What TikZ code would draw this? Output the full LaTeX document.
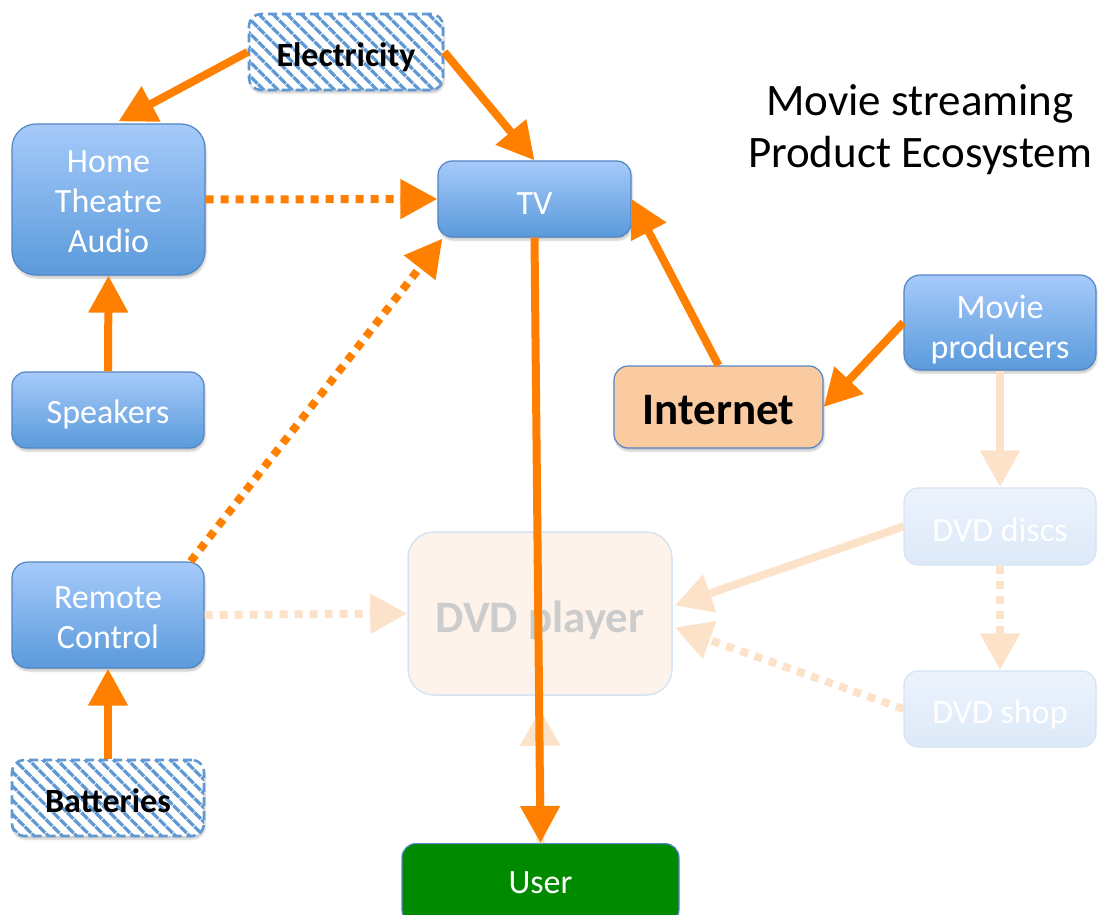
\documentclass[tikz,border=0pt]{standalone}
\usepackage{fontspec}
\setmainfont{Carlito}
\usetikzlibrary{arrows.meta,calc,patterns.meta,shadows.blur}

\definecolor{btop}{RGB}{166,202,250}
\definecolor{bbot}{RGB}{90,154,219}
\definecolor{bborder}{RGB}{84,133,196}
\definecolor{flow}{RGB}{255,128,0}
\definecolor{fadeflow}{RGB}{253,226,202}
\definecolor{fadetop}{RGB}{236,243,253}
\definecolor{fadebot}{RGB}{221,233,248}
\definecolor{fadeborder}{RGB}{214,227,244}
\definecolor{dvdfill}{RGB}{253,243,234}
\definecolor{dvdtext}{RGB}{204,204,204}
\definecolor{hatch}{RGB}{96,152,212}
\definecolor{netfill}{RGB}{250,202,161}
\definecolor{userfill}{RGB}{0,138,0}

% box label: lines centred, set a little lower than the box's middle
\newcommand\boxtext[2][6pt]{\raisebox{-#1}[\height][\depth]{\begin{tabular}{@{}c@{}}#2\end{tabular}}}

\tikzset{
  soft/.style={blur shadow={shadow xshift=1pt,shadow yshift=-3pt,shadow opacity=22,shadow blur steps=6}},
  bluebox/.style={soft,rounded corners=#1,draw=bborder,line width=1.2pt,
    top color=btop,bottom color=bbot,text=white,align=center,inner sep=0pt,
    font=\fontsize{34}{40}\selectfont},
  fadebox/.style={rounded corners=14pt,draw=fadeborder,line width=1.2pt,
    top color=fadetop,bottom color=fadebot,text=white,align=center,inner sep=0pt,
    font=\fontsize{34}{40}\selectfont,minimum width=192pt,minimum height=77pt},
  hatchbox/.style={soft,rounded corners=12pt,preaction={fill=white},
    pattern={Lines[angle=-45,distance=10pt,line width=3.2pt]},pattern color=hatch,
    draw=hatch,line width=2.6pt,dash pattern=on 9pt off 5pt,align=center,inner sep=0pt,
    font=\fontsize{34}{40}\selectfont\bfseries,minimum width=194pt,minimum height=76pt},
  flowarrow/.style={draw=flow,line width=8pt,-{Triangle[length=37pt,width=38pt]}},
  fadearrow/.style={draw=fadeflow,line width=8pt,-{Triangle[length=37pt,width=38pt]}},
  dots/.style={dash pattern=on 8pt off 7pt},
}

\begin{document}
\begin{tikzpicture}[x=1pt,y=-1pt]
\useasboundingbox (0,0) rectangle (1098,915);

% faded DVD part of the ecosystem
\node[rounded corners=26pt,draw=fadeborder,line width=1.5pt,fill=dvdfill,text=dvdtext,
  font=\fontsize{45}{50}\selectfont\bfseries,minimum width=264pt,minimum height=163pt]
  (dvd) at (540,613.5) {\boxtext[9pt]{DVD player}};
\node[fadebox] (discs) at (1000,526.5) {\boxtext[7pt]{DVD discs}};
\node[fadebox,minimum height=76pt] (shop) at (1000,709) {\boxtext{DVD shop}};

% boxes
\node[hatchbox] (elec) at (346,52) {\boxtext[7pt]{Electricity}};
\node[hatchbox,minimum width=192pt] (bat) at (108,798) {\boxtext{Batteries}};
\node[bluebox=24pt,minimum width=193pt,minimum height=151pt] (hta) at (108.5,199.5) {\boxtext[5pt]{Home\\Theatre\\Audio}};
\node[bluebox=14pt,minimum width=193pt,minimum height=76pt] (tv) at (534.5,199) {\boxtext[7pt]{TV}};
\node[bluebox=14pt,minimum width=192pt,minimum height=76pt] (spk) at (108,410) {\boxtext[5pt]{Speakers}};
\node[bluebox=16pt,minimum width=192pt,minimum height=106pt] (rem) at (108,615) {\boxtext[5.5pt]{Remote\\Control}};
\node[bluebox=16pt,minimum width=192pt,minimum height=95pt] (prod) at (1000,322.5) {\boxtext[8pt]{Movie\\producers}};
\node[soft,rounded corners=14pt,draw=bborder,line width=1.2pt,fill=netfill,text=black,
  font=\fontsize{45}{50}\selectfont\bfseries,inner sep=0pt,minimum width=209pt,minimum height=82pt]
  (inet) at (718.5,407) {\boxtext[7pt]{Internet}};
\node[rounded corners=14pt,draw=bborder,line width=1.2pt,fill=userfill,text=white,
  font=\fontsize{34}{40}\selectfont,inner sep=0pt,minimum width=277pt,minimum height=80pt,
  anchor=north] (user) at (540.5,843) {\boxtext[2pt]{User}};

% title
\node[font=\fontsize{45}{52}\selectfont,align=center] (title) at (920,129.5)
  {Movie streaming\\Product Ecosystem};

% faded connectors
\draw[fadearrow] (prod.south) -- (discs.north);
\draw[fadearrow] (discs.west) -- ($(dvd.east)+(2,-8)$);
\draw[fadearrow,dots] (discs.south) -- (shop.north);
\draw[fadearrow,dots] (shop.west) -- ($(dvd.east)+(2,14)$);
\draw[fadearrow,dots] (rem.east) -- (dvd.west);
\draw[fadearrow,shorten >=13pt] (user.north) -- (dvd.south);

% main connectors
\draw[flowarrow] (elec.west) -- ($(hta.north)+(10,-2)$);
\draw[flowarrow] (elec.east) -- (tv.north);
\draw[flowarrow,dots] (hta.east) -- (tv.west);
\draw[flowarrow] (spk.north) -- (hta.south);
\draw[flowarrow,dots] ($(rem.north east)+(-14,0)$) -- ($(tv.south west)+(5,1)$);
\draw[flowarrow] (bat.north) -- (rem.south);
\draw[flowarrow] (tv.south) -- (user.north);
\draw[flowarrow] (inet.north) -- (tv.east);
\draw[flowarrow] (prod.west) -- (inet.east);
\end{tikzpicture}
\end{document}
